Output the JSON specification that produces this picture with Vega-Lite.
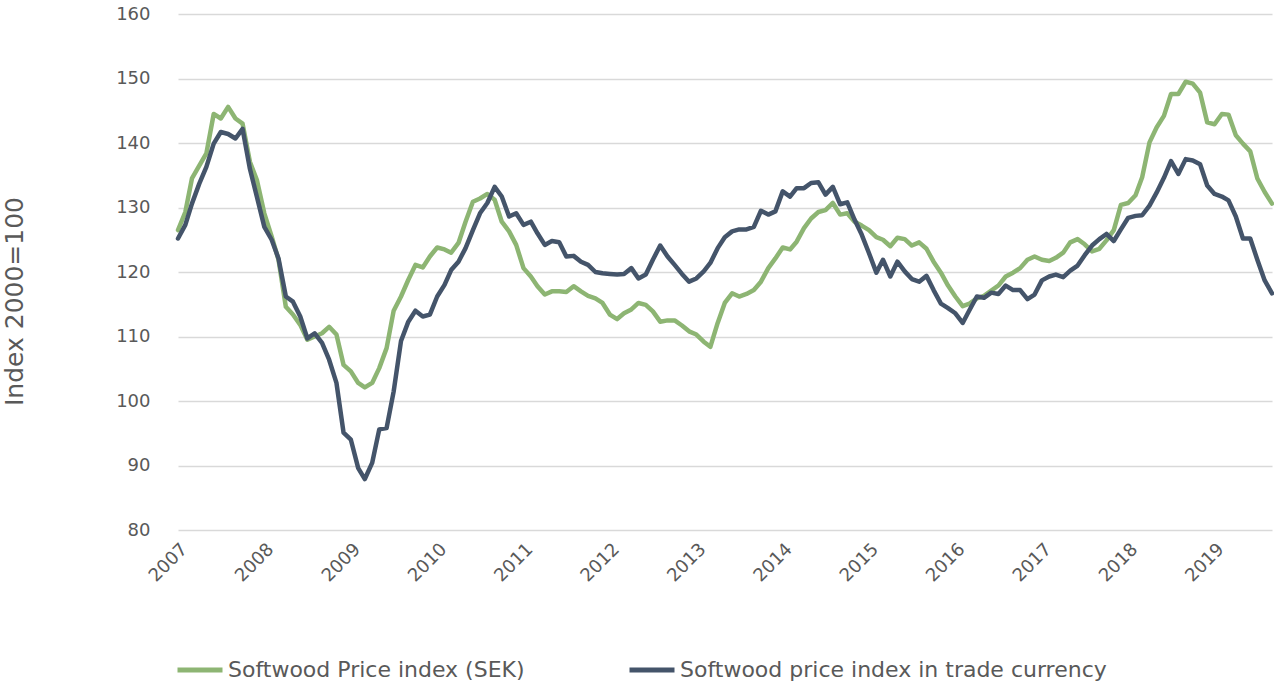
{
  "$schema": "https://vega.github.io/schema/vega-lite/v6.json",
  "width": 1094,
  "height": 516,
  "autosize": {"type": "none"},
  "padding": {"left": 178, "top": 14, "right": 2, "bottom": 156},
  "background": "white",
  "config": {
    "view": {"stroke": null},
    "font": "DejaVu Sans"
  },
  "data": {
    "values": [
      {"d":"2007-01-01","sek":126.5,"trade":125.2},
      {"d":"2007-02-01","sek":129.3,"trade":127.3},
      {"d":"2007-03-01","sek":134.5,"trade":130.6},
      {"d":"2007-04-01","sek":136.5,"trade":133.7},
      {"d":"2007-05-01","sek":138.4,"trade":136.3},
      {"d":"2007-06-01","sek":144.5,"trade":139.9},
      {"d":"2007-07-01","sek":143.8,"trade":141.7},
      {"d":"2007-08-01","sek":145.6,"trade":141.4},
      {"d":"2007-09-01","sek":143.8,"trade":140.7},
      {"d":"2007-10-01","sek":143.0,"trade":142.2},
      {"d":"2007-11-01","sek":137.1,"trade":136.0},
      {"d":"2007-12-01","sek":134.2,"trade":131.6},
      {"d":"2008-01-01","sek":129.1,"trade":127.0},
      {"d":"2008-02-01","sek":125.5,"trade":125.0},
      {"d":"2008-03-01","sek":121.9,"trade":122.1},
      {"d":"2008-04-01","sek":114.6,"trade":116.2},
      {"d":"2008-05-01","sek":113.4,"trade":115.4},
      {"d":"2008-06-01","sek":111.8,"trade":113.1},
      {"d":"2008-07-01","sek":109.5,"trade":109.7},
      {"d":"2008-08-01","sek":110.0,"trade":110.5},
      {"d":"2008-09-01","sek":110.5,"trade":109.0},
      {"d":"2008-10-01","sek":111.5,"trade":106.4},
      {"d":"2008-11-01","sek":110.3,"trade":102.8},
      {"d":"2008-12-01","sek":105.6,"trade":95.1},
      {"d":"2009-01-01","sek":104.6,"trade":94.0},
      {"d":"2009-02-01","sek":102.8,"trade":89.6},
      {"d":"2009-03-01","sek":102.1,"trade":87.9},
      {"d":"2009-04-01","sek":102.8,"trade":90.4},
      {"d":"2009-05-01","sek":105.1,"trade":95.6},
      {"d":"2009-06-01","sek":108.2,"trade":95.8},
      {"d":"2009-07-01","sek":114.0,"trade":101.5},
      {"d":"2009-08-01","sek":116.2,"trade":109.3},
      {"d":"2009-09-01","sek":118.8,"trade":112.3},
      {"d":"2009-10-01","sek":121.1,"trade":114.0},
      {"d":"2009-11-01","sek":120.7,"trade":113.1},
      {"d":"2009-12-01","sek":122.4,"trade":113.4},
      {"d":"2010-01-01","sek":123.8,"trade":116.2},
      {"d":"2010-02-01","sek":123.5,"trade":118.0},
      {"d":"2010-03-01","sek":123.0,"trade":120.3},
      {"d":"2010-04-01","sek":124.5,"trade":121.6},
      {"d":"2010-05-01","sek":127.8,"trade":123.7},
      {"d":"2010-06-01","sek":130.9,"trade":126.5},
      {"d":"2010-07-01","sek":131.4,"trade":129.1},
      {"d":"2010-08-01","sek":132.1,"trade":130.7},
      {"d":"2010-09-01","sek":131.2,"trade":133.2},
      {"d":"2010-10-01","sek":127.8,"trade":131.7},
      {"d":"2010-11-01","sek":126.3,"trade":128.6},
      {"d":"2010-12-01","sek":124.2,"trade":129.1},
      {"d":"2011-01-01","sek":120.6,"trade":127.3},
      {"d":"2011-02-01","sek":119.3,"trade":127.8},
      {"d":"2011-03-01","sek":117.8,"trade":126.0},
      {"d":"2011-04-01","sek":116.5,"trade":124.2},
      {"d":"2011-05-01","sek":117.0,"trade":124.8},
      {"d":"2011-06-01","sek":117.0,"trade":124.6},
      {"d":"2011-07-01","sek":116.9,"trade":122.4},
      {"d":"2011-08-01","sek":117.8,"trade":122.5},
      {"d":"2011-09-01","sek":117.0,"trade":121.6},
      {"d":"2011-10-01","sek":116.3,"trade":121.1},
      {"d":"2011-11-01","sek":115.9,"trade":120.0},
      {"d":"2011-12-01","sek":115.2,"trade":119.8},
      {"d":"2012-01-01","sek":113.4,"trade":119.7},
      {"d":"2012-02-01","sek":112.7,"trade":119.6},
      {"d":"2012-03-01","sek":113.6,"trade":119.7},
      {"d":"2012-04-01","sek":114.2,"trade":120.6},
      {"d":"2012-05-01","sek":115.2,"trade":119.0},
      {"d":"2012-06-01","sek":114.9,"trade":119.6},
      {"d":"2012-07-01","sek":113.9,"trade":121.9},
      {"d":"2012-08-01","sek":112.3,"trade":124.1},
      {"d":"2012-09-01","sek":112.5,"trade":122.4},
      {"d":"2012-10-01","sek":112.5,"trade":121.1},
      {"d":"2012-11-01","sek":111.7,"trade":119.7},
      {"d":"2012-12-01","sek":110.8,"trade":118.5},
      {"d":"2013-01-01","sek":110.3,"trade":119.0},
      {"d":"2013-02-01","sek":109.2,"trade":120.1},
      {"d":"2013-03-01","sek":108.4,"trade":121.4},
      {"d":"2013-04-01","sek":112.1,"trade":123.7},
      {"d":"2013-05-01","sek":115.2,"trade":125.4},
      {"d":"2013-06-01","sek":116.7,"trade":126.3},
      {"d":"2013-07-01","sek":116.2,"trade":126.6},
      {"d":"2013-08-01","sek":116.6,"trade":126.6},
      {"d":"2013-09-01","sek":117.2,"trade":127.0},
      {"d":"2013-10-01","sek":118.5,"trade":129.5},
      {"d":"2013-11-01","sek":120.6,"trade":128.9},
      {"d":"2013-12-01","sek":122.1,"trade":129.4},
      {"d":"2014-01-01","sek":123.8,"trade":132.5},
      {"d":"2014-02-01","sek":123.5,"trade":131.7},
      {"d":"2014-03-01","sek":124.7,"trade":133.0},
      {"d":"2014-04-01","sek":126.8,"trade":133.0},
      {"d":"2014-05-01","sek":128.3,"trade":133.8},
      {"d":"2014-06-01","sek":129.3,"trade":133.9},
      {"d":"2014-07-01","sek":129.6,"trade":132.0},
      {"d":"2014-08-01","sek":130.7,"trade":133.2},
      {"d":"2014-09-01","sek":128.9,"trade":130.5},
      {"d":"2014-10-01","sek":129.1,"trade":130.8},
      {"d":"2014-11-01","sek":127.8,"trade":128.1},
      {"d":"2014-12-01","sek":127.2,"trade":125.8},
      {"d":"2015-01-01","sek":126.5,"trade":122.9},
      {"d":"2015-02-01","sek":125.4,"trade":119.9},
      {"d":"2015-03-01","sek":125.0,"trade":121.9},
      {"d":"2015-04-01","sek":124.0,"trade":119.3},
      {"d":"2015-05-01","sek":125.3,"trade":121.6},
      {"d":"2015-06-01","sek":125.1,"trade":120.1},
      {"d":"2015-07-01","sek":124.1,"trade":118.9},
      {"d":"2015-08-01","sek":124.6,"trade":118.5},
      {"d":"2015-09-01","sek":123.6,"trade":119.4},
      {"d":"2015-10-01","sek":121.6,"trade":117.2},
      {"d":"2015-11-01","sek":119.9,"trade":115.1},
      {"d":"2015-12-01","sek":117.9,"trade":114.4},
      {"d":"2016-01-01","sek":116.2,"trade":113.6},
      {"d":"2016-02-01","sek":114.7,"trade":112.1},
      {"d":"2016-03-01","sek":115.1,"trade":114.1},
      {"d":"2016-04-01","sek":115.9,"trade":116.2},
      {"d":"2016-05-01","sek":116.3,"trade":116.0},
      {"d":"2016-06-01","sek":117.1,"trade":116.8},
      {"d":"2016-07-01","sek":117.9,"trade":116.6},
      {"d":"2016-08-01","sek":119.3,"trade":117.9},
      {"d":"2016-09-01","sek":119.9,"trade":117.2},
      {"d":"2016-10-01","sek":120.6,"trade":117.2},
      {"d":"2016-11-01","sek":121.9,"trade":115.8},
      {"d":"2016-12-01","sek":122.4,"trade":116.5},
      {"d":"2017-01-01","sek":121.9,"trade":118.7},
      {"d":"2017-02-01","sek":121.7,"trade":119.3},
      {"d":"2017-03-01","sek":122.2,"trade":119.6},
      {"d":"2017-04-01","sek":123.0,"trade":119.2},
      {"d":"2017-05-01","sek":124.6,"trade":120.2},
      {"d":"2017-06-01","sek":125.1,"trade":121.0},
      {"d":"2017-07-01","sek":124.3,"trade":122.6},
      {"d":"2017-08-01","sek":123.2,"trade":124.1},
      {"d":"2017-09-01","sek":123.6,"trade":125.1},
      {"d":"2017-10-01","sek":124.9,"trade":125.9},
      {"d":"2017-11-01","sek":126.5,"trade":124.8},
      {"d":"2017-12-01","sek":130.4,"trade":126.6},
      {"d":"2018-01-01","sek":130.7,"trade":128.4},
      {"d":"2018-02-01","sek":131.9,"trade":128.7},
      {"d":"2018-03-01","sek":134.7,"trade":128.8},
      {"d":"2018-04-01","sek":140.1,"trade":130.3},
      {"d":"2018-05-01","sek":142.4,"trade":132.3},
      {"d":"2018-06-01","sek":144.2,"trade":134.6},
      {"d":"2018-07-01","sek":147.6,"trade":137.2},
      {"d":"2018-08-01","sek":147.6,"trade":135.2},
      {"d":"2018-09-01","sek":149.5,"trade":137.5},
      {"d":"2018-10-01","sek":149.2,"trade":137.3},
      {"d":"2018-11-01","sek":147.8,"trade":136.7},
      {"d":"2018-12-01","sek":143.2,"trade":133.4},
      {"d":"2019-01-01","sek":142.9,"trade":132.1},
      {"d":"2019-02-01","sek":144.5,"trade":131.7},
      {"d":"2019-03-01","sek":144.4,"trade":131.1},
      {"d":"2019-04-01","sek":141.2,"trade":128.6},
      {"d":"2019-05-01","sek":139.9,"trade":125.2},
      {"d":"2019-06-01","sek":138.7,"trade":125.2},
      {"d":"2019-07-01","sek":134.5,"trade":121.9},
      {"d":"2019-08-01","sek":132.4,"trade":118.7},
      {"d":"2019-09-01","sek":130.6,"trade":116.7}
    ]
  },
  "transform": [
    {"fold": ["sek", "trade"], "as": ["series", "value"]}
  ],
  "mark": {"type": "line", "strokeWidth": 4.5, "strokeJoin": "round", "strokeCap": "round"},
  "encoding": {
    "x": {
      "field": "d",
      "type": "temporal",
      "scale": {
        "type": "utc",
        "domain": [
          {"year": 2007, "month": 1, "date": 1, "utc": true},
          {"year": 2019, "month": 9, "date": 1, "utc": true}
        ]
      },
      "axis": {
        "title": null,
        "format": "%Y",
        "formatType": "utc",
        "values": [
          {"year": 2007, "month": 1, "date": 1, "utc": true},
          {"year": 2008, "month": 1, "date": 1, "utc": true},
          {"year": 2009, "month": 1, "date": 1, "utc": true},
          {"year": 2010, "month": 1, "date": 1, "utc": true},
          {"year": 2011, "month": 1, "date": 1, "utc": true},
          {"year": 2012, "month": 1, "date": 1, "utc": true},
          {"year": 2013, "month": 1, "date": 1, "utc": true},
          {"year": 2014, "month": 1, "date": 1, "utc": true},
          {"year": 2015, "month": 1, "date": 1, "utc": true},
          {"year": 2016, "month": 1, "date": 1, "utc": true},
          {"year": 2017, "month": 1, "date": 1, "utc": true},
          {"year": 2018, "month": 1, "date": 1, "utc": true},
          {"year": 2019, "month": 1, "date": 1, "utc": true}
        ],
        "grid": false,
        "domain": false,
        "ticks": false,
        "labelAngle": -45,
        "labelAlign": "right",
        "labelBaseline": "top",
        "labelPadding": 10,
        "labelFontSize": 18,
        "labelColor": "#595959",
        "labelOverlap": false,
        "labelFlush": false
      }
    },
    "y": {
      "field": "value",
      "type": "quantitative",
      "scale": {"domain": [80, 160], "nice": false, "zero": false},
      "axis": {
        "title": "Index 2000=100",
        "titleFontSize": 25,
        "titleFontWeight": "normal",
        "titleColor": "#595959",
        "titlePadding": 88,
        "titleY": 287,
        "titleAlign": "center",
        "values": [80, 90, 100, 110, 120, 130, 140, 150, 160],
        "grid": true,
        "gridColor": "#D9D9D9",
        "gridWidth": 1.5,
        "domain": false,
        "ticks": false,
        "labelPadding": 28,
        "labelFontSize": 18,
        "labelColor": "#595959"
      }
    },
    "color": {
      "field": "series",
      "type": "nominal",
      "scale": {"domain": ["sek", "trade"], "range": ["#8DB573", "#44546A"]},
      "legend": {
        "title": null,
        "orient": "none",
        "direction": "horizontal",
        "columns": 2,
        "legendX": -3,
        "legendY": 631,
        "padding": 0,
        "symbolType": "stroke",
        "symbolSize": 2025,
        "symbolStrokeWidth": 5,
        "labelOffset": 3,
        "columnPadding": 94,
        "labelFontSize": 22,
        "labelColor": "#595959",
        "labelLimit": 600,
        "labelExpr": "datum.value == 'sek' ? 'Softwood Price index (SEK)' : 'Softwood price index in trade currency'"
      }
    }
  }
}
